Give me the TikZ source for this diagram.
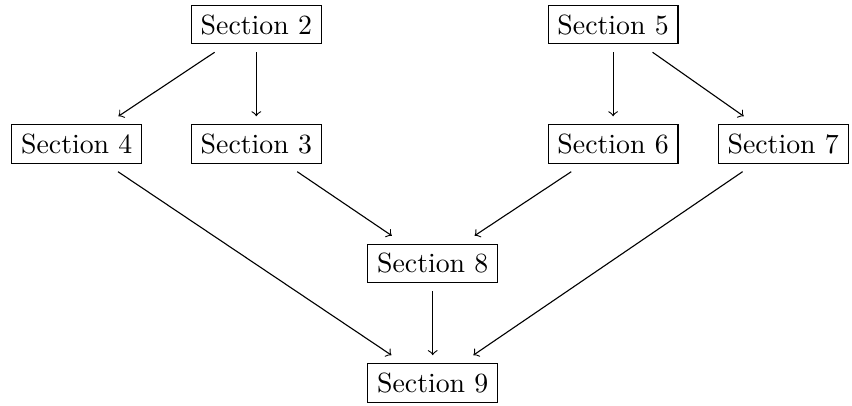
\documentclass[tikz,border=0pt]{standalone}
\usepackage{xcolor}
\usepackage{tikz}
\usetikzlibrary{shapes}
\usetikzlibrary{arrows}
\tikzset{
  sec node/.style={rectangle,draw,outer sep=3pt}
}
\begin{document}
\begin{tikzpicture}[->,>=to,node distance=1.51cm]
  \useasboundingbox (-5.47,-1.80) rectangle (5.30,3.33);
  \node[sec node] (2) at (-2.23,3.02) {Section 2};
  \node[sec node] (5) at (2.28,3.02)  {Section 5};
  \node[sec node] (3) [below of=2] {Section 3};
  \node[sec node] (6) [below of=5] {Section 6};
  \node[sec node] (4) [left of=3,node distance=2.27cm]  {Section 4};
  \node[sec node] (7) [right of=6,node distance=2.15cm] {Section 7};
  \node[sec node] (8) at (0,0)     {Section 8};
  \node[sec node] (9) [below of=8] {Section 9};

  \draw (2) -- (4);
  \draw (2) -- (3);
  \draw (5) -- (6);
  \draw (5) -- (7);
  \draw (3) -- (8);
  \draw (6) -- (8);
  \draw (4) -- (9);
  \draw (8) -- (9);
  \draw (7) -- (9);
\end{tikzpicture}
\end{document}
